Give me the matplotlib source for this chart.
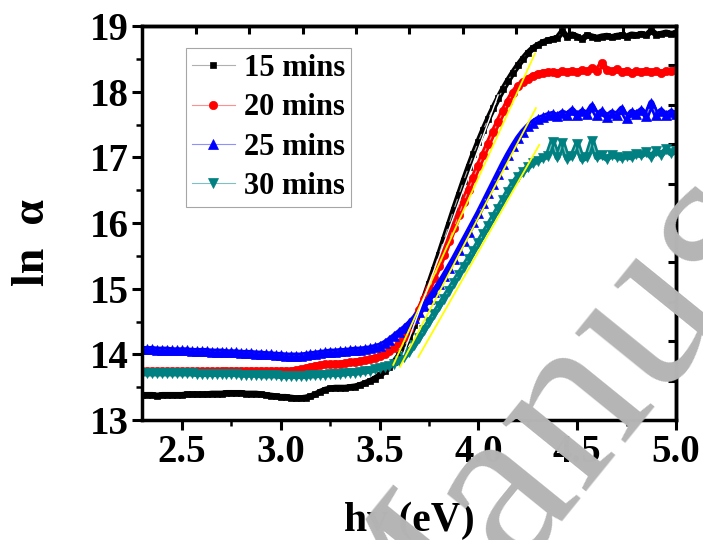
import numpy as np
import matplotlib
matplotlib.use('Agg')
import matplotlib.pyplot as plt
from matplotlib.ticker import MultipleLocator, FormatStrFormatter

plt.rcParams['font.family'] = ['Liberation Serif', 'DejaVu Serif']
plt.rcParams['font.weight'] = 'bold'

# photon energy grid (eV), 0.025 eV steps
energy = np.round(np.arange(2.300, 5.0001, 0.025), 3)

# ln(alpha) for each deposition time
ln_a_15 = [
    13.38, 13.38, 13.38, 13.37, 13.38, 13.38, 13.38, 13.38, 13.38, 13.39,
    13.39, 13.39, 13.39, 13.39, 13.40, 13.40, 13.40, 13.41, 13.41, 13.41,
    13.41, 13.40, 13.40, 13.40, 13.39, 13.38, 13.37, 13.36, 13.35, 13.35,
    13.34, 13.33, 13.33, 13.34, 13.36, 13.39, 13.43, 13.46, 13.48, 13.49,
    13.49, 13.49, 13.50, 13.51, 13.53, 13.56, 13.59, 13.63, 13.68, 13.74,
    13.81, 13.89, 13.99, 14.11, 14.26, 14.44, 14.64, 14.85, 15.07, 15.29,
    15.51, 15.74, 15.97, 16.20, 16.42, 16.64, 16.85, 17.05, 17.24, 17.42,
    17.59, 17.75, 17.90, 18.04, 18.17, 18.29, 18.40, 18.50, 18.59, 18.66,
    18.71, 18.75, 18.78, 18.80, 18.82, 18.92, 18.83, 18.87, 18.84, 18.80,
    18.86, 18.84, 18.82, 18.84, 18.85, 18.83, 18.85, 18.86, 18.84, 18.87,
    18.86, 18.88, 18.86, 18.93, 18.87, 18.88, 18.90, 18.88, 18.89]
ln_a_20 = [
    13.74, 13.74, 13.74, 13.74, 13.74, 13.74, 13.74, 13.74, 13.74, 13.74,
    13.74, 13.74, 13.74, 13.74, 13.74, 13.74, 13.75, 13.75, 13.75, 13.75,
    13.75, 13.75, 13.75, 13.75, 13.75, 13.75, 13.75, 13.75, 13.75, 13.75,
    13.75, 13.76, 13.77, 13.79, 13.81, 13.83, 13.84, 13.85, 13.85, 13.86,
    13.86, 13.87, 13.88, 13.89, 13.90, 13.91, 13.93, 13.95, 13.97, 14.01,
    14.05, 14.10, 14.17, 14.27, 14.39, 14.53, 14.68, 14.84, 15.00, 15.17,
    15.34, 15.52, 15.72, 15.92, 16.12, 16.32, 16.51, 16.69, 16.87, 17.04,
    17.21, 17.38, 17.54, 17.70, 17.85, 17.98, 18.08, 18.15, 18.20, 18.24,
    18.27, 18.29, 18.30, 18.30, 18.29, 18.31, 18.30, 18.32, 18.30, 18.33,
    18.31, 18.36, 18.32, 18.43, 18.33, 18.31, 18.34, 18.30, 18.32, 18.29,
    18.31, 18.30, 18.32, 18.30, 18.31, 18.29, 18.31, 18.32, 18.33]
ln_a_25 = [
    14.08, 14.08, 14.08, 14.07, 14.07, 14.07, 14.06, 14.06, 14.06, 14.06,
    14.05, 14.05, 14.05, 14.05, 14.04, 14.04, 14.04, 14.03, 14.03, 14.03,
    14.02, 14.02, 14.02, 14.01, 14.01, 14.00, 14.00, 13.99, 13.99, 13.98,
    13.98, 13.98, 13.98, 13.99, 14.00, 14.01, 14.02, 14.03, 14.04, 14.04,
    14.05, 14.05, 14.06, 14.07, 14.07, 14.08, 14.09, 14.11, 14.13, 14.17,
    14.22, 14.28, 14.34, 14.40, 14.47, 14.55, 14.64, 14.74, 14.84, 14.95,
    15.07, 15.19, 15.32, 15.45, 15.59, 15.73, 15.87, 16.01, 16.15, 16.30,
    16.45, 16.60, 16.75, 16.90, 17.04, 17.17, 17.29, 17.39, 17.47, 17.53,
    17.58, 17.61, 17.64, 17.66, 17.63, 17.68, 17.65, 17.72, 17.64, 17.70,
    17.66, 17.78, 17.64, 17.70, 17.62, 17.68, 17.65, 17.74, 17.60, 17.69,
    17.66, 17.72, 17.63, 17.83, 17.65, 17.71, 17.64, 17.69, 17.66]
ln_a_30 = [
    13.71, 13.71, 13.71, 13.71, 13.71, 13.71, 13.71, 13.71, 13.71, 13.71,
    13.71, 13.70, 13.70, 13.70, 13.70, 13.70, 13.70, 13.70, 13.70, 13.70,
    13.69, 13.69, 13.69, 13.69, 13.68, 13.68, 13.68, 13.68, 13.67, 13.67,
    13.67, 13.67, 13.67, 13.67, 13.68, 13.68, 13.69, 13.69, 13.70, 13.70,
    13.70, 13.71, 13.72, 13.72, 13.73, 13.74, 13.75, 13.77, 13.79, 13.81,
    13.83, 13.86, 13.90, 13.96, 14.04, 14.14, 14.25, 14.37, 14.49, 14.61,
    14.73, 14.85, 14.97, 15.09, 15.21, 15.33, 15.45, 15.57, 15.70, 15.83,
    15.96, 16.09, 16.22, 16.35, 16.48, 16.60, 16.70, 16.78, 16.85, 16.91,
    16.95, 16.99, 17.02, 17.24, 17.00, 17.22, 16.98, 17.02, 17.20, 16.97,
    17.01, 17.25, 17.00, 17.03, 16.98, 17.04, 17.01, 16.99, 17.02, 17.00,
    17.05, 17.03, 17.08, 17.01, 17.10, 17.04, 17.12, 17.06, 17.10]

labels = ['15 mins', '20 mins', '25 mins', '30 mins']

# linear fits over the absorption edge (start/end points)
fit_x0 = [3.569, 3.603, 3.696]
fit_y0 = [13.84, 13.81, 13.96]
fit_x1 = [4.286, 4.291, 4.308]
fit_y1 = [18.58, 17.75, 17.19]
white_fit_x = [3.62, 4.10]
white_fit_y = [14.00, 17.95]

fig = plt.figure(figsize=(7.03, 5.4), dpi=100)
ax = fig.add_axes([0.2027, 0.2222, 0.7589, 0.7296])

styles = [
    dict(marker='s', color='#b0b0b0', mfc='black', mec='black', ms=4.5),
    dict(marker='o', color='#ff9090', mfc='#ff0000', mec='#ff0000', ms=6),
    dict(marker='^', color='#9090ff', mfc='#0000ff', mec='#0000ff', ms=6.5),
    dict(marker='v', color='#80c0c0', mfc='#008080', mec='#008080', ms=7.5),
]
for y, lab, st in zip([ln_a_15, ln_a_20, ln_a_25, ln_a_30], labels, styles):
    # solid band underneath so the dense symbols read as one trace
    ax.plot(energy, y, color=st['mfc'], lw=4.5, solid_joinstyle='round')
    ax.plot(energy, y, lw=0.8, mew=0.5, label=lab, **st)

for x0, y0, x1, y1 in zip(fit_x0, fit_y0, fit_x1, fit_y1):
    ax.plot([x0, x1], [y0, y1], color='#ffff00', lw=1.3, zorder=5)
ax.plot(white_fit_x, white_fit_y, color='white', lw=1.0, zorder=5)

ax.set_xlim(2.3, 5.0)
ax.set_ylim(13, 19)
ax.xaxis.set_major_locator(MultipleLocator(0.5))
ax.xaxis.set_minor_locator(MultipleLocator(0.25))
ax.yaxis.set_major_locator(MultipleLocator(1))
ax.yaxis.set_minor_locator(MultipleLocator(0.5))
ax.tick_params(which='major', direction='out', length=7, width=2.2,
               labelsize=28, pad=3)
ax.tick_params(which='minor', direction='out', length=4.5, width=1.8)
ax.xaxis.set_major_formatter(FormatStrFormatter('%.1f'))
for s in ax.spines.values():
    s.set_linewidth(2.5)

# top and right frame carry their own evenly spaced inward ticks
top = ax.secondary_xaxis('top')
top.set_xticks([2.3 + 0.27 * k for k in range(1, 10)])
top.set_xticklabels([])
top.tick_params(direction='in', length=6, width=2.2)
top.spines['top'].set_linewidth(2.5)
right = ax.secondary_yaxis('right')
right.set_yticks([13 + 0.6 * k for k in range(1, 10)])
right.set_yticklabels([])
right.tick_params(direction='in', length=6, width=2.2)
right.spines['right'].set_linewidth(2.5)

leg = ax.legend(loc='upper left', bbox_to_anchor=(0.081, 0.945),
                borderaxespad=0, frameon=True, fancybox=False,
                prop={'family': 'Liberation Serif', 'weight': 'bold', 'size': 22},
                handlelength=1.4, handletextpad=0.3, labelspacing=0.34,
                borderpad=0.2)
leg.get_frame().set_edgecolor('#909090')
leg.get_frame().set_linewidth(0.8)
# legend keys show only the symbol on a thin light line
for h, st in zip(leg.legend_handles, styles):
    h.set_color(st['color'])
    h.set_markerfacecolor(st['mfc'])
    h.set_markeredgecolor(st['mec'])

fig.text(0.5818, 0.036, 'hv (eV)', ha='center', va='center', fontsize=30,
         fontweight='bold')
fig.text(0.047, 0.55, 'ln  α', ha='center', va='center', rotation=90,
         fontsize=33, fontweight='bold')

fig.text(0.545, -0.36, 'Manuscript', rotation=51, rotation_mode='anchor',
         ha='left', va='baseline', fontsize=170, color='#b5b5b5',
         fontweight='normal', zorder=20)

fig.savefig('out.png', dpi=100)
